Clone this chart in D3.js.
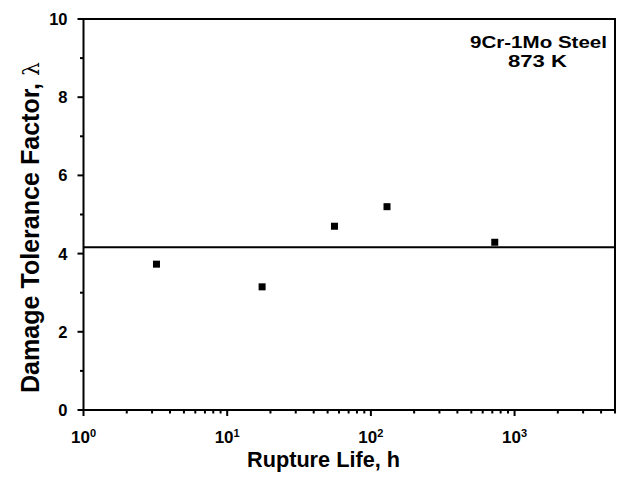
<!DOCTYPE html>
<html>
<head>
<meta charset="utf-8">
<script src="https://cdn.jsdelivr.net/npm/d3@7"></script>
<style>
  body { margin: 0; background: #fff; }
  text { font-family: Arial, "Liberation Sans", sans-serif; font-weight: bold; fill: #000; }
</style>
</head>
<body>
<svg id="svg" width="623" height="482"></svg>
<script>
// data
const ruptureLife = [3.22, 17.5, 55.8, 129.5, 728];
const lambda = [3.73, 3.15, 4.70, 5.20, 4.29];
const meanLambda = 4.16;
const xTickExp = [0, 1, 2, 3];
const yTicks = [0, 2, 4, 6, 8, 10];
const yMinor = [1, 3, 5, 7, 9];

const svg = d3.select("#svg");
const margin = {top: 19, right: 8, bottom: 72, left: 83.5};
const W = +svg.attr("width"), H = +svg.attr("height");

const x = d3.scaleLog().domain([1, 5000]).range([margin.left, W - margin.right]);
const y = d3.scaleLinear().domain([0, 10]).range([H - margin.bottom, margin.top]);

// frame
svg.append("rect")
  .attr("x", x(1)).attr("y", y(10))
  .attr("width", x(5000) - x(1)).attr("height", y(0) - y(10))
  .attr("fill", "none").attr("stroke", "#000").attr("stroke-width", 2);

// x ticks (log minors)
const xMinor = [];
for (let e = 0; e <= 3; e++) for (let m = 2; m <= 9; m++) {
  const v = m * Math.pow(10, e);
  if (v <= 5000) xMinor.push(v);
}
const gx = svg.append("g");
gx.selectAll(".maj").data(xTickExp).enter().append("line")
  .attr("x1", d => x(Math.pow(10, d))).attr("x2", d => x(Math.pow(10, d)))
  .attr("y1", y(0)).attr("y2", y(0) + 6)
  .attr("stroke", "#000").attr("stroke-width", 2);
gx.selectAll(".min").data(xMinor).enter().append("line")
  .attr("x1", d => x(d)).attr("x2", d => x(d))
  .attr("y1", y(0)).attr("y2", y(0) + 3.5)
  .attr("stroke", "#000").attr("stroke-width", 2);
const xl = gx.selectAll(".lab").data(xTickExp).enter().append("text")
  .attr("x", d => x(Math.pow(10, d)))
  .attr("y", 443)
  .attr("text-anchor", "middle")
  .style("font-size", "17px");
xl.append("tspan").text("10");
xl.append("tspan").attr("dy", -6).style("font-size", "11px").text(d => d);

// y ticks
const gy = svg.append("g");
gy.selectAll(".maj").data(yTicks).enter().append("line")
  .attr("x1", x(1) - 6).attr("x2", x(1))
  .attr("y1", d => y(d)).attr("y2", d => y(d))
  .attr("stroke", "#000").attr("stroke-width", 2);
gy.selectAll(".min").data(yMinor).enter().append("line")
  .attr("x1", x(1) - 3.5).attr("x2", x(1))
  .attr("y1", d => y(d)).attr("y2", d => y(d))
  .attr("stroke", "#000").attr("stroke-width", 2);
gy.selectAll(".lab").data(yTicks).enter().append("text")
  .attr("x", x(1) - 16)
  .attr("y", d => y(d) + 6)
  .attr("text-anchor", "end")
  .style("font-size", "16.5px")
  .text(d => d);

// mean line
svg.append("line")
  .attr("x1", x(1)).attr("x2", x(5000))
  .attr("y1", y(meanLambda)).attr("y2", y(meanLambda))
  .attr("stroke", "#000").attr("stroke-width", 2);

// points
svg.selectAll(".pt").data(ruptureLife).enter().append("rect")
  .attr("x", d => x(d) - 3.5)
  .attr("y", (d, i) => y(lambda[i]) - 3.5)
  .attr("width", 7).attr("height", 7)
  .attr("fill", "#000");

// axis titles
svg.append("text")
  .attr("x", 323.5).attr("y", 467)
  .attr("text-anchor", "middle")
  .style("font-size", "21.5px")
  .attr("textLength", 153).attr("lengthAdjust", "spacingAndGlyphs")
  .text("Rupture Life, h");

const yt = svg.append("text")
  .attr("transform", "translate(39,227.5) rotate(-90)")
  .attr("text-anchor", "middle")
  .style("font-size", "25px")
  .attr("textLength", 331).attr("lengthAdjust", "spacingAndGlyphs");
yt.append("tspan").text("Damage Tolerance Factor, ");
yt.append("tspan").style("font-weight", "normal").style("font-family", "'DejaVu Serif', serif").style("font-size", "22px").text("λ");

// annotation
svg.append("text")
  .attr("x", 538.5).attr("y", 48)
  .attr("text-anchor", "middle")
  .style("font-size", "16.5px")
  .attr("textLength", 137).attr("lengthAdjust", "spacingAndGlyphs")
  .text("9Cr-1Mo Steel");
svg.append("text")
  .attr("x", 537.5).attr("y", 67)
  .attr("text-anchor", "middle")
  .style("font-size", "16.5px")
  .attr("textLength", 59).attr("lengthAdjust", "spacingAndGlyphs")
  .text("873 K");
</script>
</body>
</html>
